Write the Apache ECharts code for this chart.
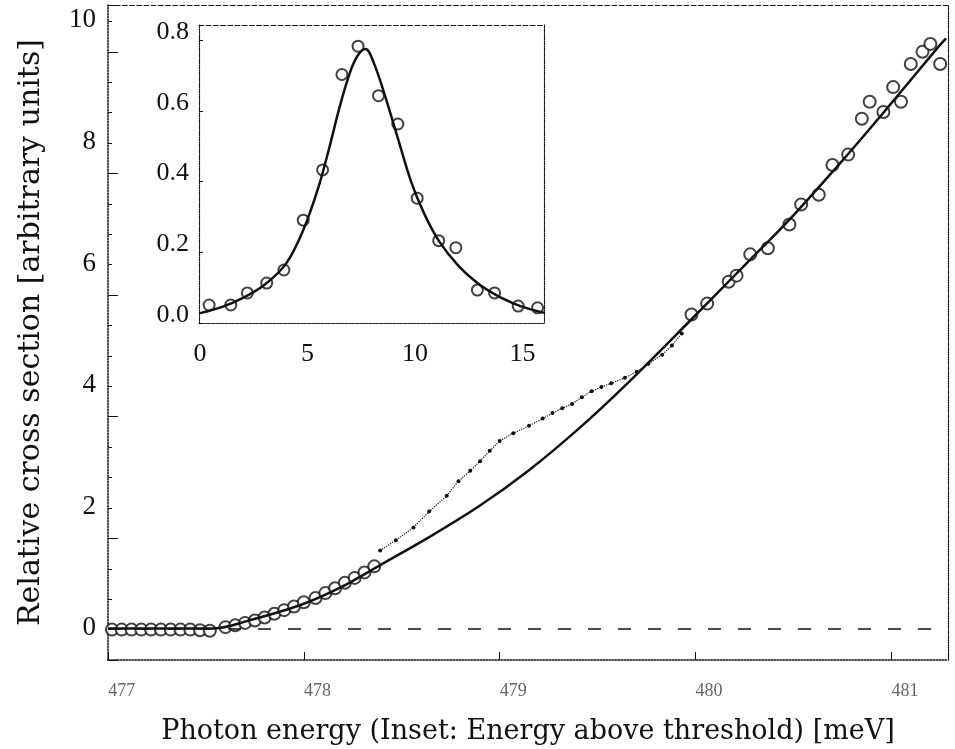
<!DOCTYPE html>
<html>
<head>
<meta charset="utf-8">
<script src="https://cdn.jsdelivr.net/npm/echarts@6/dist/echarts.min.js"></script>
<style>
  html, body { margin: 0; padding: 0; background: #fff; }
  #chart { width: 955px; height: 749px; }
</style>
</head>
<body>
<div id="chart"></div>
<script>
// main panel: photon energy [meV] vs relative cross section
const xTicks = [477, 478, 479, 480, 481]
const mainFit = [
  [476.93, 0], [477.47, 0], [477.65, 0.13], [477.91, 0.38], [478.11, 0.66],
  [478.32, 1.04], [478.57, 1.5], [478.83, 2.02], [479.08, 2.6], [479.34, 3.3],
  [479.58, 4.02], [479.9, 5.05], [480.2, 6.03], [480.41, 6.72], [480.71, 7.8],
  [480.88, 8.44], [481.16, 9.52], [481.21, 9.7]
]
const mainCircles = [
  [476.95, -0.02], [477.0, -0.02], [477.05, -0.02], [477.1, -0.02], [477.15, -0.02],
  [477.2, -0.02], [477.25, -0.02], [477.3, -0.02], [477.35, -0.02], [477.4, -0.03],
  [477.45, -0.04], [477.53, 0.02], [477.58, 0.05], [477.63, 0.09], [477.68, 0.13],
  [477.73, 0.18], [477.78, 0.24], [477.83, 0.3], [477.88, 0.36], [477.93, 0.43],
  [477.99, 0.5], [478.04, 0.58], [478.09, 0.66], [478.14, 0.75], [478.19, 0.83],
  [478.24, 0.92], [478.29, 1.02],
  [479.91, 5.16], [479.99, 5.34], [480.1, 5.7], [480.14, 5.8], [480.21, 6.15],
  [480.3, 6.25], [480.41, 6.64], [480.47, 6.97], [480.56, 7.13], [480.63, 7.62],
  [480.71, 7.79], [480.78, 8.38], [480.82, 8.66], [480.89, 8.49], [480.94, 8.9],
  [480.98, 8.66], [481.03, 9.28], [481.09, 9.48], [481.13, 9.61], [481.18, 9.28]
]
const mainDots = [
  [478.32, 1.28], [478.4, 1.45], [478.49, 1.66], [478.57, 1.92], [478.66, 2.18],
  [478.72, 2.42], [478.78, 2.59], [478.83, 2.75], [478.88, 2.92], [478.93, 3.08],
  [479.0, 3.21], [479.08, 3.33], [479.15, 3.45], [479.2, 3.54], [479.25, 3.62],
  [479.3, 3.69], [479.35, 3.8], [479.4, 3.9], [479.45, 3.97], [479.5, 4.03],
  [479.57, 4.12], [479.63, 4.22], [479.69, 4.35], [479.76, 4.5], [479.81, 4.65],
  [479.86, 4.85]
]

// inset: energy above threshold [meV]
const insetFit = [
  [0, 0.005], [1, 0.022], [2, 0.048], [3, 0.085], [4, 0.145], [4.8, 0.24],
  [5.5, 0.36], [6, 0.47], [6.5, 0.59], [7, 0.69], [7.35, 0.735], [7.7, 0.752],
  [8.1, 0.71], [8.6, 0.62], [9.2, 0.5], [9.8, 0.38], [10.4, 0.29], [11.1, 0.21],
  [12, 0.14], [12.9, 0.09], [13.8, 0.055], [14.6, 0.032], [15.3, 0.017], [16, 0.006]
]
const insetCircles = [
  [0.42, 0.028], [1.43, 0.028], [2.2, 0.062], [3.1, 0.09], [3.9, 0.127],
  [4.8, 0.268], [5.7, 0.41], [6.6, 0.68], [7.35, 0.76], [8.3, 0.62],
  [9.2, 0.54], [10.1, 0.33], [11.1, 0.21], [11.9, 0.19], [12.9, 0.07],
  [13.7, 0.062], [14.8, 0.025], [15.7, 0.02]
]

const serif = 'Liberation Serif'
const ink = '#111'

const chart = echarts.init(document.getElementById('chart'))

const frameAxis = (gridIndex, pos, type) => ({
  gridIndex: gridIndex,
  position: pos,
  axisLine: { show: true, onZero: false, lineStyle: { color: ink, type: type, width: 1.2 } },
  axisTick: { show: false },
  axisLabel: { show: false },
  splitLine: { show: false }
})

chart.setOption({
  backgroundColor: '#fff',
  animation: false,
  grid: [
    { left: 108, right: 7, top: 5, bottom: 89, outerBoundsMode: 'none', containLabel: false },
    { left: 199, top: 25, width: 345, height: 298, outerBoundsMode: 'none', containLabel: false }
  ],
  xAxis: [
    {
      type: 'value', gridIndex: 0, min: 476.93, max: 481.22, interval: 1,
      name: 'Photon energy (Inset: Energy above threshold) [meV]',
      nameLocation: 'middle', nameGap: 58,
      nameTextStyle: { fontFamily: 'DejaVu Serif', fontSize: 27, color: ink },
      axisLine: { show: true, onZero: false, lineStyle: { color: ink, type: 'dotted', width: 1.5 } },
      axisTick: { show: true, inside: true, length: 8, lineStyle: { color: ink } },
      axisLabel: {
        fontFamily: serif, fontSize: 18, color: '#666', margin: 22,
        customValues: xTicks, formatter: v => String(Math.round(v))
      },
      splitLine: { show: false }
    },
    Object.assign({ type: 'value', min: 476.93, max: 481.22 }, frameAxis(0, 'top', 'dashed')),
    {
      type: 'value', gridIndex: 1, min: -0.05, max: 16, interval: 5,
      axisLine: { show: true, onZero: false, lineStyle: { color: ink, type: 'dotted', width: 1.2 } },
      axisTick: { show: false },
      axisLabel: {
        fontFamily: serif, fontSize: 26, color: ink, margin: 18,
        customValues: [0, 5, 10, 15]
      },
      splitLine: { show: false }
    },
    Object.assign({ type: 'value', min: -0.05, max: 16 }, frameAxis(1, 'top', 'dashed'))
  ],
  yAxis: [
    {
      type: 'value', gridIndex: 0, min: -0.52, max: 10.25, interval: 2,
      name: 'Relative cross section [arbitrary units]',
      nameLocation: 'middle', nameGap: 62, nameRotate: 90,
      nameTextStyle: { fontFamily: 'DejaVu Serif', fontSize: 30, color: ink },
      axisLine: { show: true, onZero: false, lineStyle: { color: ink, type: 'dotted', width: 1.5 } },
      axisTick: { show: true, inside: true, length: 10, lineStyle: { color: ink } },
      minorTick: { show: true, splitNumber: 4, length: 4, lineStyle: { color: ink } },
      axisLabel: {
        fontFamily: serif, fontSize: 27, color: ink, margin: 12,
        customValues: [0, 2, 4, 6, 8, 10]
      },
      splitLine: { show: false }
    },
    Object.assign({ type: 'value', min: -0.52, max: 10.25 }, frameAxis(0, 'right', 'dotted')),
    {
      type: 'value', gridIndex: 1, min: -0.023, max: 0.82, interval: 0.2,
      axisLine: { show: true, onZero: false, lineStyle: { color: ink, type: 'dotted', width: 1.2 } },
      axisTick: { show: true, inside: true, length: 4, lineStyle: { color: ink } },
      axisLabel: {
        fontFamily: serif, fontSize: 26, color: ink, margin: 10,
        customValues: [0, 0.2, 0.4, 0.6, 0.8], formatter: v => v.toFixed(1)
      },
      splitLine: { show: false }
    },
    Object.assign({ type: 'value', min: -0.023, max: 0.82 }, frameAxis(1, 'right', 'dotted'))
  ],
  series: [
    {
      type: 'line', xAxisIndex: 0, yAxisIndex: 0, data: mainFit,
      smooth: 0.35, showSymbol: false,
      lineStyle: { color: ink, width: 2.5 },
      markLine: {
        silent: true, symbol: 'none', label: { show: false },
        lineStyle: { color: ink, type: [13, 17], width: 1.5 },
        data: [{ yAxis: 0 }]
      }
    },
    {
      type: 'scatter', xAxisIndex: 0, yAxisIndex: 0, data: mainCircles,
      symbol: 'emptyCircle', symbolSize: 12,
      itemStyle: { color: ink, borderWidth: 1.3 }
    },
    {
      type: 'line', xAxisIndex: 0, yAxisIndex: 0, data: mainDots,
      symbol: 'circle', symbolSize: 4, showSymbol: true,
      lineStyle: { color: ink, width: 1.2, type: 'dotted' },
      itemStyle: { color: ink }
    },
    {
      type: 'line', xAxisIndex: 2, yAxisIndex: 2, data: insetFit,
      smooth: 0.35, showSymbol: false,
      lineStyle: { color: ink, width: 2.5 }
    },
    {
      type: 'scatter', xAxisIndex: 2, yAxisIndex: 2, data: insetCircles,
      symbol: 'emptyCircle', symbolSize: 11,
      itemStyle: { color: ink, borderWidth: 1.2 }
    }
  ]
})
</script>
</body>
</html>
